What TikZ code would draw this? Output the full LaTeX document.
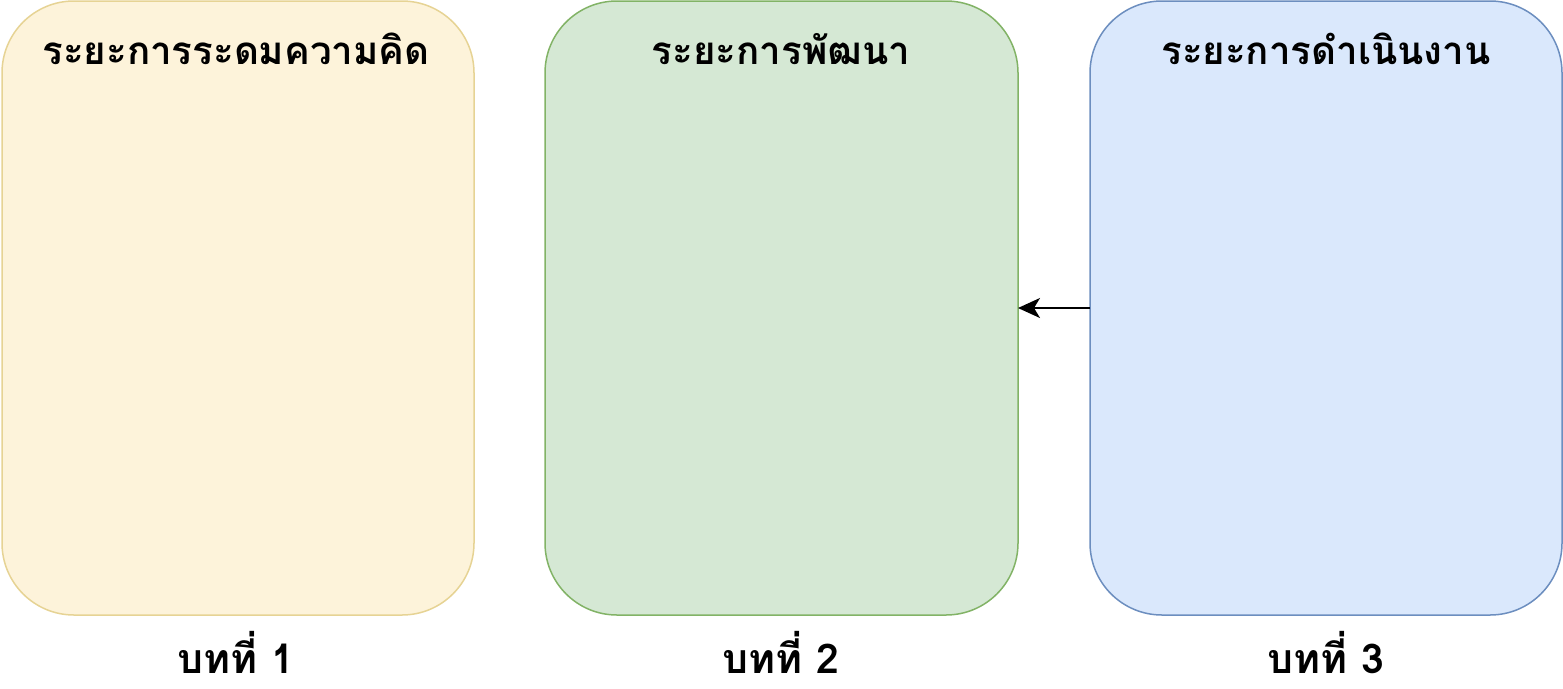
\documentclass[tikz,border=0pt]{standalone}
\usepackage{fontspec}
\newfontfamily\thaifont[Script=Thai]{Loma}
\usetikzlibrary{arrows.meta}
\definecolor{yfill}{HTML}{FDF3DA}
\definecolor{ydraw}{HTML}{E6D394}
\definecolor{gfill}{HTML}{D5E8D4}
\definecolor{gdraw}{HTML}{82B366}
\definecolor{bfill}{HTML}{DAE8FC}
\definecolor{bdraw}{HTML}{6C8EBF}
\tikzset{
  phase/.style={rounded corners=72pt, line width=1.5pt},
  ttl/.style={font=\thaifont\bfseries\fontsize{38.5}{44}\selectfont, anchor=base, inner sep=0pt},
  chap/.style={font=\thaifont\bfseries\fontsize{41}{46}\selectfont, anchor=base, inner sep=0pt, text depth=0pt},
  conn/.style={-{Stealth[length=22pt,width=20pt,inset=6pt,fill=black]}, line width=2pt}
}
\begin{document}
\begin{tikzpicture}[x=1pt,y=-1pt]
\useasboundingbox (0,0) rectangle (1563,688);
\draw[phase, fill=yfill, draw=ydraw] (2,1) rectangle (474,615);
\draw[phase, fill=gfill, draw=gdraw] (545,1) rectangle (1018,615);
\draw[phase, fill=bfill, draw=bdraw] (1090,1) rectangle (1562,615);
\node[ttl] (t1) at (236,64) {ระยะการระดมความคิด};
\node[ttl] (t2) at (781,64) {ระยะการพัฒนา};
\node[ttl] (t3) at (1326,64) {ระยะการดำเนินงาน};
\node[chap] (c1) at (236,673) {บทที่ 1};
\node[chap] (c2) at (781,673) {บทที่ 2};
\node[chap] (c3) at (1326,673) {บทที่ 3};
\coordinate (g) at (1018,308);
\coordinate (b) at (1090,308);
\draw[conn] (b) -- (g);
\end{tikzpicture}
\end{document}
